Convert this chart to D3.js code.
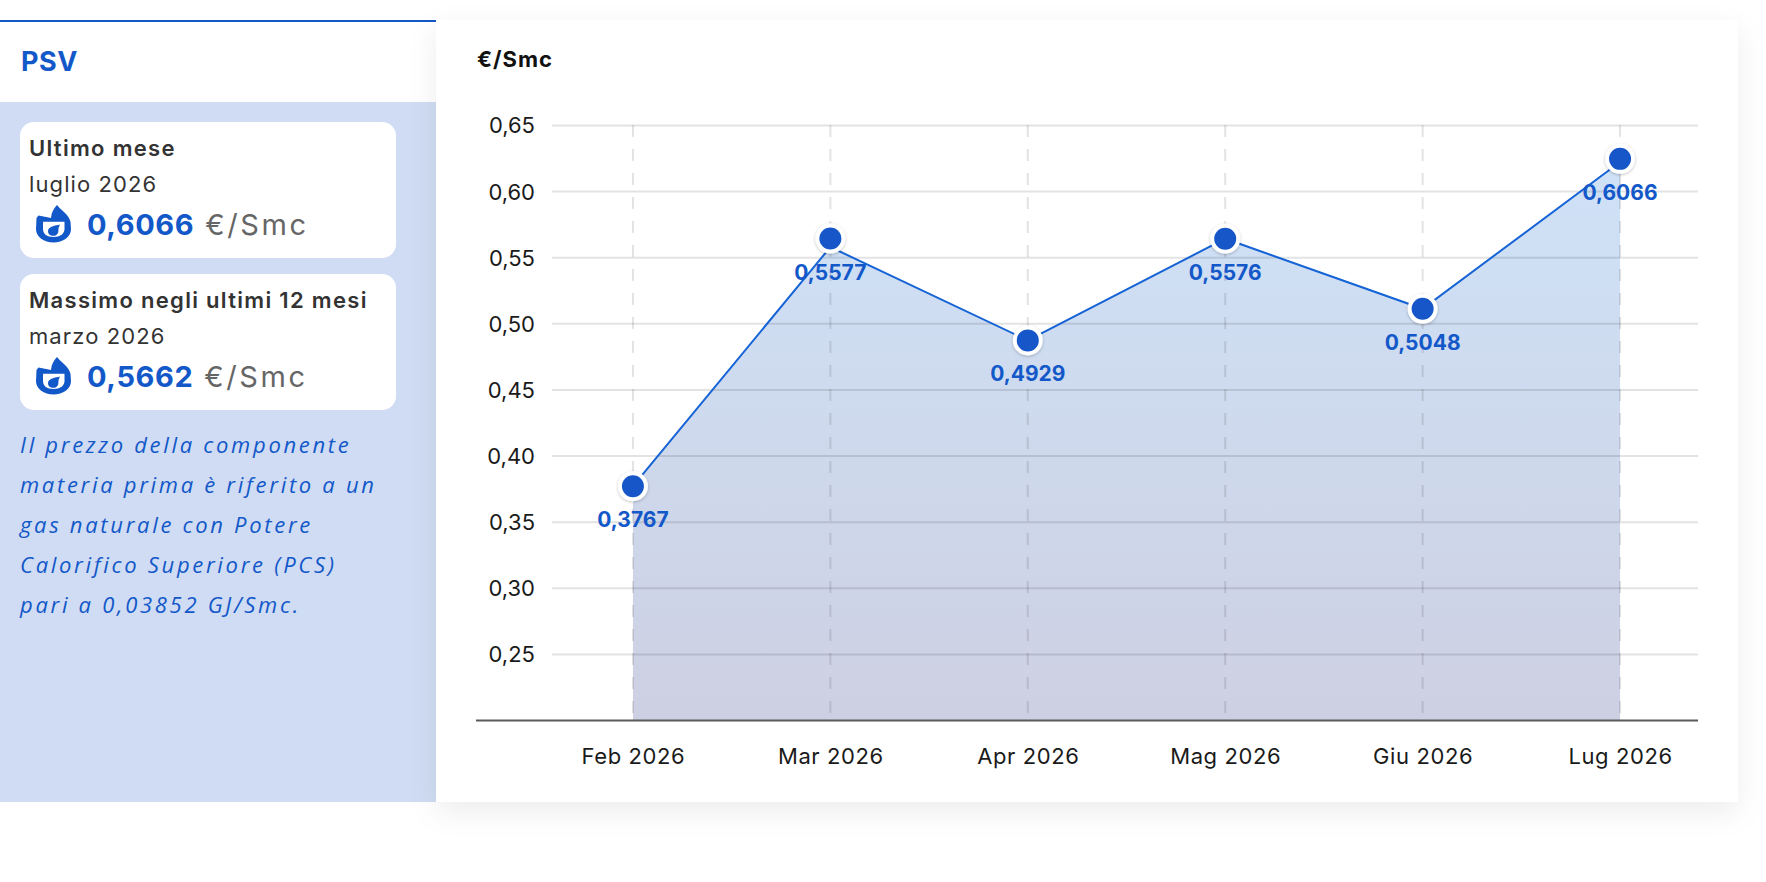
<!DOCTYPE html>
<html>
<head>
<meta charset="utf-8">
<script src="https://cdn.jsdelivr.net/npm/d3@7"></script>
<style>
  html, body { margin: 0; padding: 0; background: #fff; }
  svg { display: block; font-family: Inter, "Noto Sans", sans-serif; }
</style>
</head>
<body>
<svg id="chart" width="1766" height="882"></svg>
<script>
// months on the x axis
const months = ["Feb 2026", "Mar 2026", "Apr 2026", "Mag 2026", "Giu 2026", "Lug 2026"];
// values printed under each point
const labelValues = [0.3767, 0.5577, 0.4929, 0.5576, 0.5048, 0.6066];
// where the markers sit in the picture
const markerValues = [0.3768, 0.5641, 0.4871, 0.5640, 0.5110, 0.6244];
// where the line / area vertices sit
const lineValues = [0.3768, 0.5577, 0.4871, 0.5640, 0.5110, 0.6220];
const yTicks = [0.25, 0.30, 0.35, 0.40, 0.45, 0.50, 0.55, 0.60, 0.65];

// side panel
const cardTitles = ["Ultimo mese", "Massimo negli ultimi 12 mesi"];
const cardPeriods = ["luglio 2026", "marzo 2026"];
const cardValues = [0.6066, 0.5662];
const noteLines = [
  "Il prezzo della componente",
  "materia prima è riferito a un",
  "gas naturale con Potere",
  "Calorifico Superiore (PCS)",
  "pari a 0,03852 GJ/Smc."
];

const blue = "#1358c9";
const it = d3.formatLocale({decimal: ",", thousands: ".", grouping: [3], currency: ["€", ""]});
const f4 = it.format(".4f"), f2 = it.format(".2f");

const svg = d3.select("#chart");
const defs = svg.append("defs");

const shadow = defs.append("filter").attr("id", "cardShadow")
  .attr("x", "-10%").attr("y", "-10%").attr("width", "120%").attr("height", "125%");
shadow.append("feDropShadow").attr("dx", 0).attr("dy", 10).attr("stdDeviation", 14)
  .attr("flood-color", "#000").attr("flood-opacity", 0.07);

const dotShadow = defs.append("filter").attr("id", "dotShadow")
  .attr("x", "-50%").attr("y", "-50%").attr("width", "200%").attr("height", "200%");
dotShadow.append("feDropShadow").attr("dx", 0).attr("dy", 1).attr("stdDeviation", 1.5)
  .attr("flood-color", "#000").attr("flood-opacity", 0.25);

const grad = defs.append("linearGradient").attr("id", "areaFill")
  .attr("gradientUnits", "userSpaceOnUse").attr("x1", 0).attr("x2", 0).attr("y1", 150).attr("y2", 720);
grad.append("stop").attr("offset", 0).attr("stop-color", "#cfe2f8");
grad.append("stop").attr("offset", 1).attr("stop-color", "#cdd0e2");

// ---- side panel ----
const side = svg.append("g");
side.append("rect").attr("x", 0).attr("y", 20).attr("width", 436).attr("height", 2).attr("fill", blue);
side.append("text").attr("x", 21).attr("y", 71).attr("font-size", 27).attr("font-weight", 700)
  .attr("fill", blue).attr("letter-spacing", 0.5).text("PSV");
side.append("rect").attr("x", 0).attr("y", 102).attr("width", 436).attr("height", 700).attr("fill", "#cfdcf3");

// flame icon in a 36x38 box
const flameOuter = "M2.5,10.5 L15,13 C15.5,7 18,3 21,0 C24.5,5 33,9 34.5,17 L35,24 C35,32 27,37.5 17.5,37.5 C8,37.5 0,32 0,24 L0.5,13 Z " +
  "M7,16.8 L28.5,16.8 L28.5,24 C28.5,29 24,32 17.5,32 C11,32 7,29 7,24 Z";
const flameDrop = "M24,19.5 C19.5,20.5 12,21.5 12,26.2 C12,29.2 14.5,30.8 17.3,30.8 C20.6,30.8 22.4,28.5 22.4,25.4 C22.4,23.3 23,21.3 24,19.5 Z";

cardTitles.forEach((t, i) => {
  const cardTop = i === 0 ? 122 : 274;
  const g = side.append("g").attr("transform", `translate(0,${cardTop})`);
  g.append("rect").attr("x", 20).attr("y", 0).attr("width", 376).attr("height", 136).attr("rx", 14).attr("fill", "#fff");
  g.append("text").attr("x", 29).attr("y", 34).attr("font-size", 22).attr("font-weight", 600)
    .attr("fill", "#333").attr("letter-spacing", 1.3).text(t);
  g.append("text").attr("x", 29).attr("y", 70).attr("font-size", 22)
    .attr("fill", "#333").attr("letter-spacing", 1.1).text(cardPeriods[i]);
  const ic = g.append("g").attr("transform", "translate(36,83)");
  ic.append("path").attr("d", flameOuter).attr("fill", blue).attr("fill-rule", "evenodd");
  ic.append("path").attr("d", flameDrop).attr("fill", blue);
  const v = g.append("text").attr("x", 87).attr("y", 113).attr("font-size", 29);
  v.append("tspan").attr("font-weight", 700).attr("fill", blue).attr("letter-spacing", 0.6).text(f4(cardValues[i]));
  v.append("tspan").attr("dx", 11).attr("fill", "#666").attr("letter-spacing", 2.6).text("€/Smc");
});

side.append("g").selectAll("text").data(noteLines).join("text")
  .attr("x", 20).attr("y", (d, i) => 453 + i * 40)
  .attr("font-family", "'Open Sans', sans-serif").attr("font-style", "italic")
  .attr("font-size", 22).attr("letter-spacing", 2.7).attr("fill", blue)
  .text(d => d);

// ---- chart card ----
svg.append("rect").attr("x", 436).attr("y", 20).attr("width", 1302).attr("height", 782)
  .attr("fill", "#fff").attr("filter", "url(#cardShadow)");

svg.append("text").attr("x", 477).attr("y", 67).attr("font-size", 22).attr("font-weight", 700)
  .attr("fill", "#111").attr("letter-spacing", 1).text("€/Smc");

const gridLeft = 552, gridRight = 1698, base = 720, plotTop = 125;
const x = d3.scalePoint().domain(months).range([gridLeft, 1701]).padding(0.41);
const y = d3.scaleLinear().domain([0.20, 0.65]).range([base, plotTop]);

// area under the line
svg.append("path")
  .datum(lineValues)
  .attr("fill", "url(#areaFill)")
  .attr("d", d3.area().x((d, i) => x(months[i])).y0(base).y1(d => y(d)));

// horizontal grid + y labels
const yAxis = svg.append("g").attr("transform", `translate(${gridLeft},0)`)
  .call(d3.axisLeft(y).tickValues(yTicks).tickFormat(f2)
    .tickSize(-(gridRight - gridLeft)).tickPadding(17));
yAxis.select(".domain").remove();
yAxis.selectAll(".tick line").attr("stroke", "#000").attr("stroke-opacity", 0.11).attr("stroke-width", 2);
yAxis.selectAll(".tick text").attr("font-size", 22).attr("fill", "#1a1a1a")
  .attr("font-family", "Inter, sans-serif").attr("dy", "0.36em");

// vertical dashed grid
svg.append("g").selectAll("line").data(months).join("line")
  .attr("x1", d => x(d)).attr("x2", d => x(d)).attr("y1", plotTop).attr("y2", base)
  .attr("stroke", "#000").attr("stroke-opacity", 0.11).attr("stroke-width", 2)
  .attr("stroke-dasharray", "12,12");

// line
svg.append("path")
  .datum(lineValues)
  .attr("fill", "none").attr("stroke", "#1663d6").attr("stroke-width", 2)
  .attr("d", d3.line().x((d, i) => x(months[i])).y(d => y(d)));

// x axis
const xAxis = svg.append("g").attr("transform", `translate(0,${base})`)
  .call(d3.axisBottom(x).tickSize(0).tickSizeOuter(0));
xAxis.select(".domain").remove();
xAxis.append("line").attr("x1", 476).attr("x2", gridRight).attr("y1", 0.5).attr("y2", 0.5)
  .attr("stroke", "#5a5a5a").attr("stroke-width", 2);
xAxis.selectAll(".tick text").attr("y", 44).attr("dy", 0).attr("font-size", 22)
  .attr("fill", "#1a1a1a").attr("letter-spacing", 0.6).attr("font-family", "Inter, sans-serif");

// markers
svg.append("g").selectAll("circle").data(markerValues).join("circle")
  .attr("cx", (d, i) => x(months[i])).attr("cy", d => y(d)).attr("r", 13)
  .attr("fill", "#1257c8").attr("stroke", "#fff").attr("stroke-width", 4)
  .attr("filter", "url(#dotShadow)");

// value labels
svg.append("g").selectAll("text").data(markerValues).join("text")
  .attr("x", (d, i) => x(months[i])).attr("y", d => y(d) + 41)
  .attr("text-anchor", "middle").attr("font-size", 21).attr("font-weight", 700)
  .attr("fill", "#1358c9")
  .text((d, i) => f4(labelValues[i]));
</script>
</body>
</html>
